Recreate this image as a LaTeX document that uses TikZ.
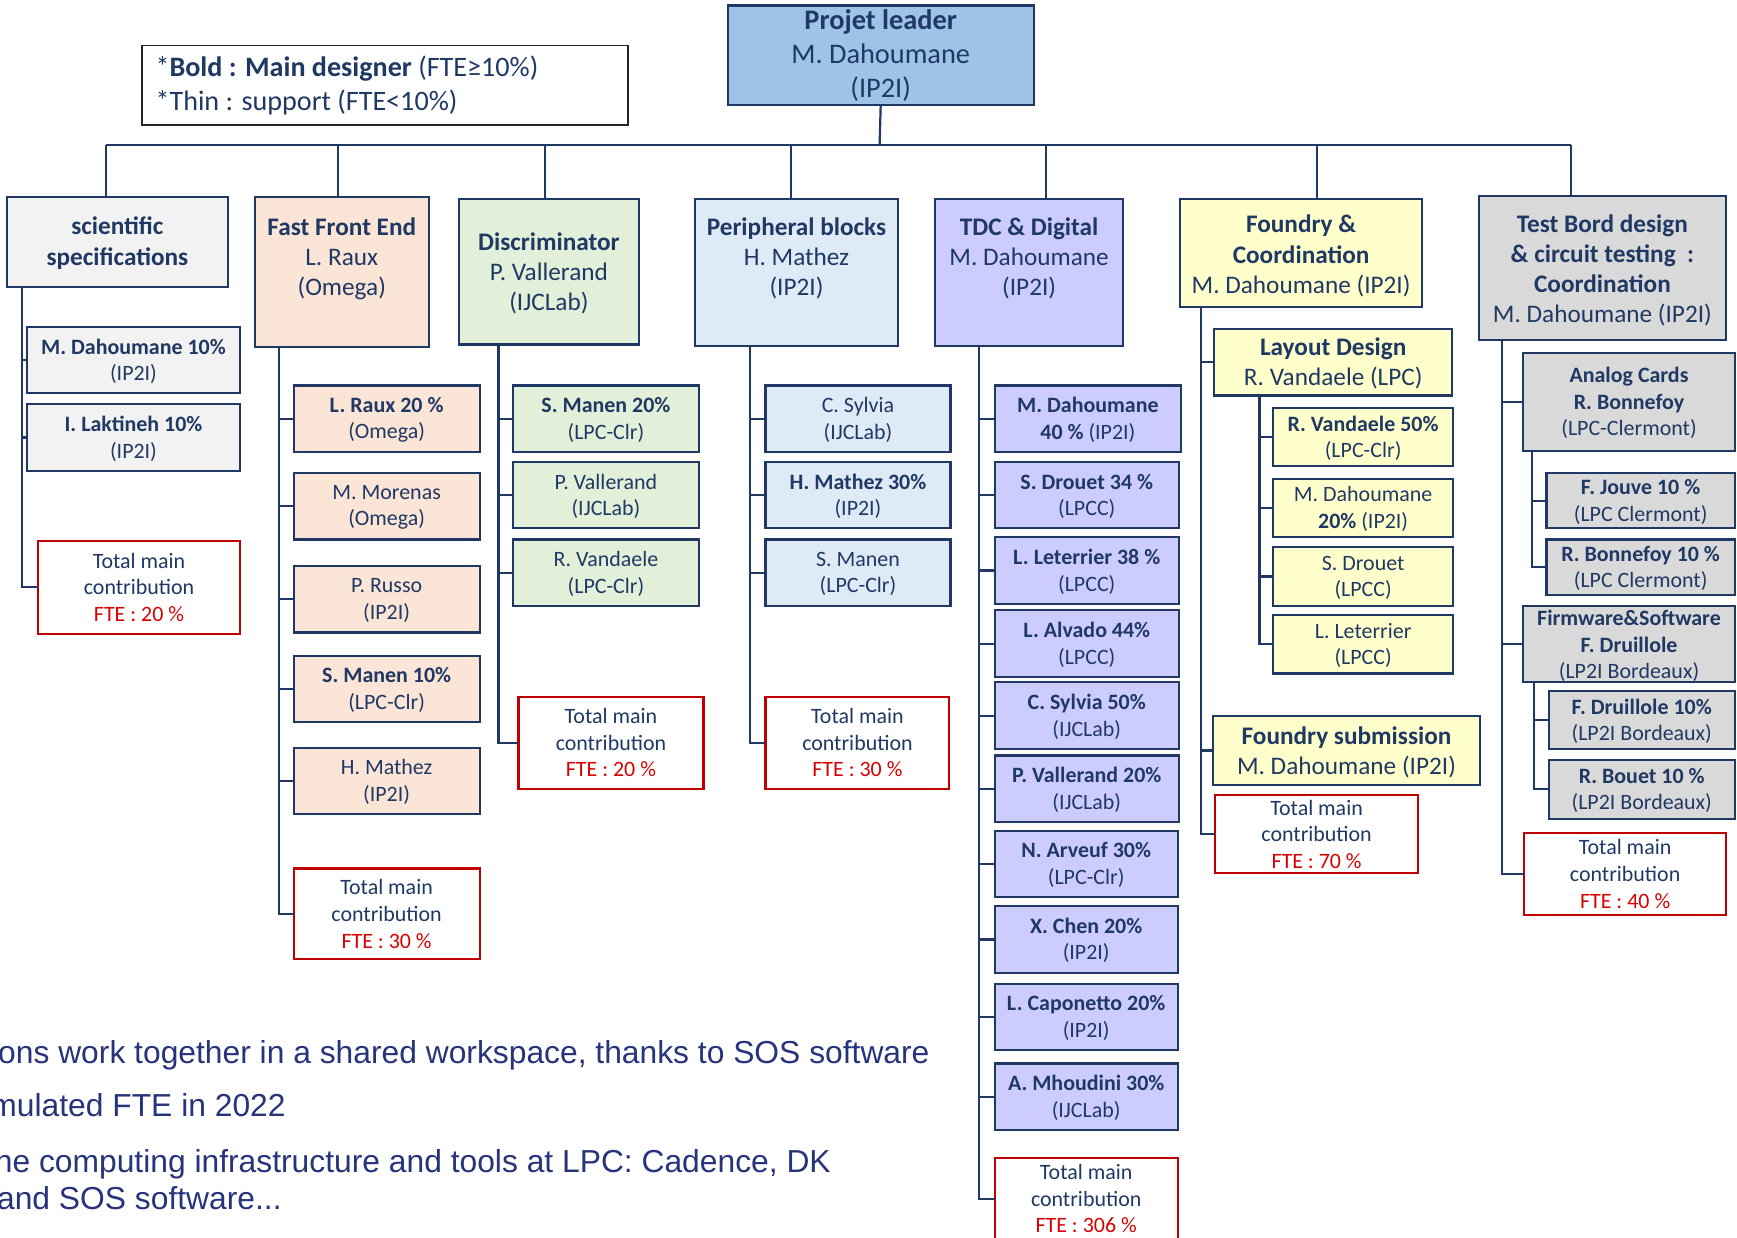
\documentclass[tikz,border=0pt]{standalone}
\usepackage{fontspec}
\setmainfont{Carlito}
\newfontfamily\notefont{Liberation Sans}

\definecolor{navy}{HTML}{1F3864}
\definecolor{notecol}{HTML}{27337A}
\definecolor{redline}{HTML}{C00000}
\definecolor{ftered}{HTML}{D80000}
\definecolor{leadfill}{HTML}{9DC3E6}
\definecolor{specfill}{HTML}{F2F2F2}
\definecolor{ffefill}{HTML}{FBE5D6}
\definecolor{discfill}{HTML}{E2F0D9}
\definecolor{perifill}{HTML}{DEEBF7}
\definecolor{tdcfill}{HTML}{CCCCFF}
\definecolor{fndfill}{HTML}{FFFFCC}
\definecolor{tstfill}{HTML}{D9D9D9}

% box from corners: name, x1, y1, x2, y2, box style, text centre y, text style, text
\newcommand\bx[9]{%
  \node[#6, minimum width={(#4-#2)*0.5pt}, minimum height={(#5-#3)*0.5pt}]
    (#1) at ({(#2+#4)/2},{(#3+#5)/2}) {};
  \node[#8] (#1-t) at ({(#2+#4)/2},#7) {#9};}
% red total box
\newcommand\tot[6]{%
  \bx{#1}{#2}{#3}{#4}{#5}{totbox}{{(#3+#5)/2}}{txt}{Total main\\contribution\\\textcolor{ftered}{FTE : #6}}}

\begin{document}
\begin{tikzpicture}[x=0.5pt,y=-0.5pt,
  box/.style={draw=navy, line width=0.95pt, rectangle, inner sep=0pt, outer sep=0pt},
  totbox/.style={box, draw=redline, fill=white},
  txt/.style={text=navy, align=center, inner sep=0pt, font=\fontsize{9.9}{12}\selectfont},
  htxt/.style={txt, font=\fontsize{11.4}{13.6}\selectfont},
  link/.style={draw=navy, line width=1pt}]

\useasboundingbox (0,0) rectangle (1568,1117);
\begin{scope}
\clip (0,0) rectangle (1568,1117);

% project leader and legend
\bx{leader}{657}{5}{933}{95}{box, fill=leadfill}{50}{txt, font=\fontsize{12.8}{15.3}\selectfont}%
  {\textbf{Projet leader}\\M. Dahoumane\\(IP2I)}
\node[draw=black!85, line width=0.8pt, minimum width=219.5pt, minimum height=36pt,
  inner sep=0pt] (legend) at (347.5,77) {};
\node[text=navy, align=left, anchor=west, inner sep=0pt,
  font=\fontsize{12.7}{15.5}\selectfont] (legend-t) at (140,77)
  {*\textbf{Bold : Main designer} (FTE≥10\%)\\*Thin : support (FTE<10\%)};

% work packages
\bx{sci}{6}{178}{206}{259}{box, fill=specfill}{219.5}{htxt}{\textbf{scientific}\\\textbf{specifications}}
\bx{ffe}{230}{178}{387}{313}{box, fill=ffefill}{233.5}{htxt}{\textbf{Fast Front End}\\L. Raux\\(Omega)}
\bx{disc}{414}{180}{577}{311}{box, fill=discfill}{246.5}{htxt}{\textbf{Discriminator}\\P. Vallerand\\(IJCLab)}
\bx{peri}{627}{180}{811}{312}{box, fill=perifill}{233.5}{htxt}{\textbf{Peripheral blocks}\\H. Mathez\\(IP2I)}
\bx{tdc}{844}{180}{1014}{312}{box, fill=tdcfill}{233.5}{htxt}{\textbf{TDC \& Digital}\\M. Dahoumane\\(IP2I)}
\bx{fnd}{1065}{180}{1284}{277}{box, fill=fndfill}{231}{htxt}{\textbf{Foundry \&}\\\textbf{Coordination}\\M. Dahoumane (IP2I)}
\bx{tst}{1335}{177}{1558}{307}{box, fill=tstfill}{244}{htxt}{\textbf{Test Bord design}\\\textbf{\& circuit testing~~:}\\\textbf{Coordination}\\M. Dahoumane~(IP2I)}

% top-level bus
\coordinate (bus) at (794,131);
\draw[link] (leader.south) -- (bus);
\foreach \n/\x in {sci/96, ffe/305, disc/492, peri/714, tdc/944, fnd/1189, tst/1418}{
  \coordinate (b\n) at (\x,131);
  \draw[link] (b\n) -- (b\n |- \n.north);
}
\draw[link] (bsci) -- (btst);

% scientific specifications
\bx{sc1}{24}{295}{217}{355}{box, fill=specfill}{326}{txt}{\textbf{M. Dahoumane 10\%}\\(IP2I)}
\bx{sc2}{24}{365}{217}{425}{box, fill=specfill}{396}{txt}{\textbf{I. Laktineh 10\%}\\(IP2I)}
\tot{sctot}{34}{488}{217}{572}{20 \%}
\coordinate (sciS) at (20,259);
\foreach \c in {sc1,sc2,sctot} \draw[link] (sciS) |- (\c.west);

% fast front end
\bx{f1}{265}{348}{433}{408}{box, fill=ffefill}{379}{txt}{\textbf{L. Raux 20 \%}\\(Omega)}
\bx{f2}{265}{427}{433}{487}{box, fill=ffefill}{458}{txt}{M. Morenas\\(Omega)}
\bx{f3}{265}{511}{433}{571}{box, fill=ffefill}{542}{txt}{P. Russo\\(IP2I)}
\bx{f4}{265}{592}{433}{652}{box, fill=ffefill}{623}{txt}{\textbf{S. Manen 10\%}\\(LPC-Clr)}
\bx{f5}{265}{675}{433}{735}{box, fill=ffefill}{706}{txt}{H. Mathez\\(IP2I)}
\tot{ftot}{265}{784}{433}{866}{30 \%}
\coordinate (ffeS) at (252,313);
\foreach \c in {f1,f2,f3,f4,f5,ftot} \draw[link] (ffeS) |- (\c.west);

% discriminator
\bx{d1}{463}{348}{631}{408}{box, fill=discfill}{379}{txt}{\textbf{S. Manen 20\%}\\(LPC-Clr)}
\bx{d2}{463}{417}{631}{477}{box, fill=discfill}{448}{txt}{P. Vallerand\\(IJCLab)}
\bx{d3}{463}{487}{631}{547}{box, fill=discfill}{518}{txt}{R. Vandaele\\(LPC-Clr)}
\tot{dtot}{468}{629}{635}{712}{20 \%}
\coordinate (discS) at (450,311);
\foreach \c in {d1,d2,d3,dtot} \draw[link] (discS) |- (\c.west);

% peripheral blocks
\bx{p1}{691}{348}{858}{408}{box, fill=perifill}{379}{txt}{C. Sylvia\\(IJCLab)}
\bx{p2}{691}{417}{858}{477}{box, fill=perifill}{448}{txt}{\textbf{H. Mathez 30\%}\\(IP2I)}
\bx{p3}{691}{487}{858}{547}{box, fill=perifill}{518}{txt}{S. Manen\\(LPC-Clr)}
\tot{ptot}{691}{629}{857}{712}{30 \%}
\coordinate (periS) at (677,312);
\foreach \c in {p1,p2,p3,ptot} \draw[link] (periS) |- (\c.west);

% TDC & digital
\bx{t1}{898}{348}{1066}{408}{box, fill=tdcfill}{379}{txt}{\textbf{M. Dahoumane}\\\textbf{40 \%} (IP2I)}
\bx{t2}{898}{417}{1064}{477}{box, fill=tdcfill}{448}{txt}{\textbf{S. Drouet 34 \%}\\(LPCC)}
\bx{t3}{898}{485}{1064}{545}{box, fill=tdcfill}{516}{txt}{\textbf{L. Leterrier 38 \%}\\(LPCC)}
\bx{t4}{898}{551}{1064}{611}{box, fill=tdcfill}{582}{txt}{\textbf{L. Alvado 44\%}\\(LPCC)}
\bx{t5}{898}{616}{1064}{676}{box, fill=tdcfill}{647}{txt}{\textbf{C. Sylvia 50\%}\\(IJCLab)}
\bx{t6}{898}{682}{1064}{742}{box, fill=tdcfill}{713}{txt}{\textbf{P. Vallerand 20\%}\\(IJCLab)}
\bx{t7}{898}{750}{1063}{810}{box, fill=tdcfill}{781}{txt}{\textbf{N. Arveuf 30\%}\\(LPC-Clr)}
\bx{t8}{898}{818}{1063}{878}{box, fill=tdcfill}{849}{txt}{\textbf{X. Chen 20\%}\\(IP2I)}
\bx{t9}{898}{888}{1063}{948}{box, fill=tdcfill}{919}{txt}{\textbf{L. Caponetto 20\%}\\(IP2I)}
\bx{t10}{898}{960}{1063}{1020}{box, fill=tdcfill}{991}{txt}{\textbf{A. Mhoudini 30\%}\\(IJCLab)}
\bx{ttot}{898}{1045}{1063}{1120}{totbox}{1082}{txt}{Total main\\contribution\\\textcolor{ftered}{FTE : 306 \%}}
\coordinate (tdcS) at (884,312);
\foreach \c in {t1,t2,t3,t4,t5,t6,t7,t8,t9,t10,ttot} \draw[link] (tdcS) |- (\c.west);

% foundry & coordination
\bx{lay}{1096}{297}{1311}{357}{box, fill=fndfill}{328}{htxt}{\textbf{Layout Design}\\R. Vandaele (LPC)}
\bx{l1}{1149}{368}{1312}{421}{box, fill=fndfill}{395.5}{txt}{\textbf{R. Vandaele 50\%}\\(LPC-Clr)}
\bx{l2}{1149}{432}{1312}{485}{box, fill=fndfill}{459.5}{txt}{M. Dahoumane\\\textbf{20\%} (IP2I)}
\bx{l3}{1149}{494}{1312}{547}{box, fill=fndfill}{521.5}{txt}{S. Drouet\\(LPCC)}
\bx{l4}{1149}{555}{1312}{608}{box, fill=fndfill}{582.5}{txt}{L. Leterrier\\(LPCC)}
\coordinate (layS) at (1137,357);
\foreach \c in {l1,l2,l3,l4} \draw[link] (layS) |- (\c.west);
\bx{sub}{1095}{646}{1336}{709}{box, fill=fndfill}{679}{htxt}{\textbf{Foundry submission}\\M. Dahoumane~(IP2I)}
\tot{fntot}{1097}{718}{1280}{788}{70 \%}
\coordinate (fndS) at (1084,277);
\foreach \c in {lay,sub,fntot} \draw[link] (fndS) |- (\c.west);

% test board design
\bx{ac}{1375}{319}{1566}{407}{box, fill=tstfill}{364}{txt}{\textbf{Analog Cards}\\\textbf{R. Bonnefoy}\\(LPC-Clermont)}
\bx{a1}{1396}{427}{1566}{477}{box, fill=tstfill}{453}{txt}{\textbf{F. Jouve 10 \%}\\(LPC Clermont)}
\bx{a2}{1396}{487}{1566}{537}{box, fill=tstfill}{513}{txt}{\textbf{R. Bonnefoy 10 \%}\\(LPC Clermont)}
\coordinate (acS) at (1383,407);
\foreach \c in {a1,a2} \draw[link] (acS) |- (\c.west);
\bx{fw}{1375}{547}{1566}{616}{box, fill=tstfill}{583}{txt}{\textbf{Firmware\&Software}\\\textbf{F. Druillole}\\(LP2I Bordeaux)}
\bx{w1}{1398}{624}{1566}{676}{box, fill=tstfill}{651}{txt}{\textbf{F. Druillole 10\%}\\(LP2I Bordeaux)}
\bx{w2}{1398}{686}{1566}{739}{box, fill=tstfill}{713.5}{txt}{\textbf{R. Bouet 10 \%}\\(LP2I Bordeaux)}
\coordinate (fwS) at (1385,616);
\foreach \c in {w1,w2} \draw[link] (fwS) |- (\c.west);
\tot{tsttot}{1376}{752}{1558}{826}{40 \%}
\coordinate (tstS) at (1356,307);
\foreach \c in {ac,fw,tsttot} \draw[link] (tstS) |- (\c.west);

% notes below the chart
\begin{scope}[every node/.style={text=notecol, anchor=base west, inner sep=0pt,
    font=\notefont\fontsize{14.35}{17}\selectfont}]
  \node (n1) at (-2,960) {ons work together in a shared workspace, thanks to SOS software};
  \node (n2) at (-9,1008) {mulated FTE in 2022};
  \node (n3) at (-5,1058) {he computing infrastructure and tools at LPC: Cadence, DK};
  \node (n4) at (-3,1092) {and SOS software...};
\end{scope}
\end{scope}
\end{tikzpicture}
\end{document}
